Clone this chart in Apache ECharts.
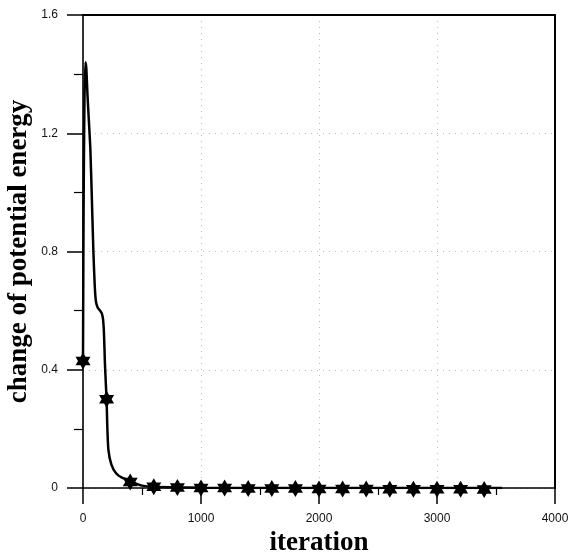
<!DOCTYPE html>
<html><head><meta charset="utf-8">
<script src="https://cdn.jsdelivr.net/npm/echarts@6/dist/echarts.min.js"></script>
<style>html,body{margin:0;padding:0;background:#fff}#c{width:570px;height:553px}</style>
</head><body><div id="c"></div>
<script>
// curve (iteration, change of potential energy)
const curveX = [0, 5, 12, 20, 28, 38, 50, 62, 75, 88, 100, 110, 125, 145, 160, 170, 178, 186, 195, 200, 205, 215, 240, 280, 330, 400, 450, 500, 600, 800, 1000, 1500, 2000, 2500, 3000, 3550];
const curveY = [0.43, 0.95, 1.30, 1.44, 1.42, 1.33, 1.24, 1.15, 0.98, 0.80, 0.68, 0.63, 0.61, 0.60, 0.59, 0.57, 0.52, 0.42, 0.34, 0.30, 0.22, 0.13, 0.08, 0.05, 0.035, 0.025, 0.015, 0.008, 0.004, 0.002, 0.001, 0, 0, 0, 0, 0];
// star markers
const starX = [0, 200, 400, 600, 800, 1000, 1200, 1400, 1600, 1800, 2000, 2200, 2400, 2600, 2800, 3000, 3200, 3400];
const starY = [0.43, 0.30, 0.02, 0.004, 0.002, 0.0, 0.0, -0.002, -0.002, -0.002, -0.003, -0.003, -0.003, -0.004, -0.004, -0.004, -0.004, -0.005];
const xTicks = [0, 1000, 2000, 3000, 4000];
const yTicks = [0, 0.4, 0.8, 1.2, 1.6];

const hexagram = 'path://M0,-10 L2.887,-5 L8.66,-5 L5.774,0 L8.66,5 L2.887,5 L0,10 L-2.887,5 L-8.66,5 L-5.774,0 L-8.66,-5 L-2.887,-5 Z';
const chart = echarts.init(document.getElementById('c'));
const tickLabel = {color: '#111', fontSize: 12, fontFamily: 'Liberation Sans, Arial, sans-serif', margin: 25};
const nameStyle = {fontFamily: 'Liberation Serif, Times New Roman, serif', fontWeight: 'bold', fontSize: 27, color: '#000'};
const xMin = xTicks[0], xMax = xTicks[xTicks.length - 1];
const yMin = yTicks[0], yMax = yTicks[yTicks.length - 1];
const frameAxis = {show: true, axisLine: {show: true, onZero: false, lineStyle: {color: '#000', width: 2}},
  axisTick: {show: false}, axisLabel: {show: false}, splitLine: {show: false}};
chart.setOption({
  animation: false,
  backgroundColor: '#fff',
  grid: {left: 83, right: 15, top: 15, bottom: 65, containLabel: false, outerBoundsMode: 'none'},
  xAxis: [{
    type: 'value', min: xMin, max: xMax, interval: 1000,
    name: 'iteration', nameLocation: 'middle', nameGap: 42, nameMoveOverlap: false, nameTextStyle: nameStyle,
    axisLine: {show: true, onZero: false, lineStyle: {color: '#000', width: 1.6}},
    axisTick: {show: true, inside: false, length: 16, lineStyle: {color: '#000', width: 1.5}},
    minorTick: {show: true, splitNumber: 2, length: 7, lineStyle: {color: '#000', width: 1.2}},
    axisLabel: Object.assign({}, tickLabel, {formatter: v => String(v)}),
    splitLine: {show: true, lineStyle: {color: '#bbb', type: [1, 5], width: 1}}
  }, Object.assign({type: 'value', position: 'top', min: xMin, max: xMax}, frameAxis)],
  yAxis: [{
    type: 'value', min: yMin, max: yMax, interval: 0.4,
    name: 'change of potential energy', nameLocation: 'middle', nameGap: 50, nameMoveOverlap: false, nameTextStyle: nameStyle,
    axisLine: {show: true, onZero: false, lineStyle: {color: '#000', width: 1.6}},
    axisTick: {show: true, inside: false, length: 16, lineStyle: {color: '#000', width: 1.5}},
    minorTick: {show: true, splitNumber: 2, length: 9, lineStyle: {color: '#000', width: 1.2}},
    axisLabel: Object.assign({}, tickLabel, {formatter: v => v === 0 ? '0' : v.toFixed(1)}),
    splitLine: {show: true, lineStyle: {color: '#bbb', type: [1, 5], width: 1}}
  }, Object.assign({type: 'value', position: 'right', min: yMin, max: yMax}, frameAxis)],
  series: [
    {type: 'line', data: curveX.map((x, i) => [x, curveY[i]]), showSymbol: false, smooth: 0.2,
     lineStyle: {color: '#000', width: 2.5}, z: 3},
    {type: 'scatter', data: starX.map((x, i) => [x, starY[i]]), symbol: hexagram, symbolSize: [15, 17],
     clip: false, itemStyle: {color: '#000', opacity: 1}, z: 4}
  ]
});
</script></body></html>
